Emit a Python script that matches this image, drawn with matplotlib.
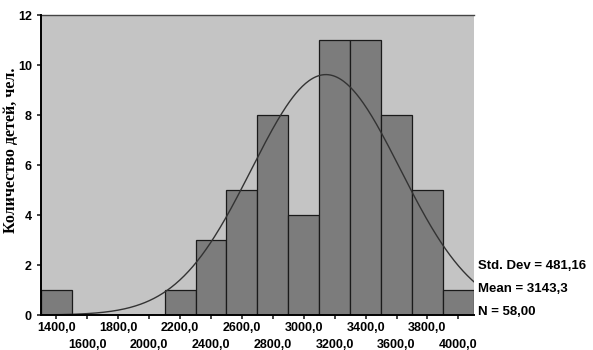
import matplotlib.pyplot as plt
import numpy as np

# bin centres and counts
bin_centres = [1400, 1600, 1800, 2000, 2200, 2400, 2600, 2800, 3000, 3200, 3400, 3600, 3800, 4000]
counts = [1, 0, 0, 0, 1, 3, 5, 8, 4, 11, 11, 8, 5, 1]
bin_width = 200

std_dev = 481.16
mean = 3143.3
n = 58

fig = plt.figure(figsize=(5.93, 3.5), dpi=100)
ax = fig.add_axes([0.069, 0.1, 0.730, 0.857])
ax.set_facecolor('#c4c4c4')

ax.bar(bin_centres, counts, width=bin_width, color='#7c7c7c', edgecolor='#1a1a1a', linewidth=0.9)

# normal curve from the stated mean / std dev
xs = np.linspace(1300, 4100, 400)
ys = n * bin_width / (std_dev * np.sqrt(2 * np.pi)) * np.exp(-0.5 * ((xs - mean) / std_dev) ** 2)
ax.plot(xs, ys, color='#333333', linewidth=1.0)

ax.set_xlim(1300, 4100)
ax.set_ylim(0, 12)
ax.set_yticks(range(0, 13, 2))

# staggered labels: first row on major ticks, second row on minor ticks
row1 = bin_centres[0::2]
row2 = bin_centres[1::2]
fmt = lambda c: f'{c:.1f}'.replace('.', ',')
ax.set_xticks(row1)
ax.set_xticklabels([fmt(c) for c in row1])
ax.set_xticks(row2, minor=True)
ax.set_xticklabels([fmt(c) for c in row2], minor=True)

for lab in ax.get_xticklabels() + ax.get_xticklabels(minor=True) + ax.get_yticklabels():
    lab.set_fontfamily('Liberation Sans')
    lab.set_fontweight('bold')
    lab.set_fontsize(9)
ax.tick_params(which='both', length=3, width=1.2, color='#222222')
ax.tick_params(axis='x', which='major', pad=2)
ax.tick_params(axis='x', which='minor', pad=14)

for sp in ax.spines.values():
    sp.set_visible(False)
ax.spines['left'].set_visible(True)
ax.spines['bottom'].set_visible(True)
ax.spines['left'].set_linewidth(1.4)
ax.spines['bottom'].set_linewidth(1.4)
ax.plot([1300, 4100], [12, 12], color='#444444', linewidth=1.0, clip_on=False)

ax.set_ylabel('Количество детей, чел.', fontfamily='Liberation Serif', fontweight='bold', fontsize=11.5)
ax.yaxis.set_label_coords(-0.05, 0.55)

stats_txt = ['Std. Dev = 481,16', 'Mean = 3143,3', 'N = 58,00']
for i, t in enumerate(stats_txt):
    fig.text(0.806, 1 - (266 + i * 23) / 350, t, fontfamily='Liberation Sans', fontweight='bold',
             fontsize=9.5, va='center', ha='left')

fig.savefig('out.png', dpi=100, facecolor='white')
